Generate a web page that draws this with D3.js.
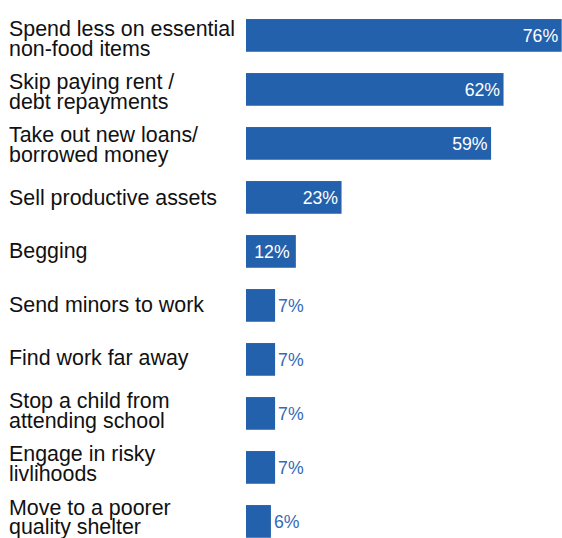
<!DOCTYPE html>
<html>
<head>
<meta charset="utf-8">
<script src="https://cdn.jsdelivr.net/npm/d3@7"></script>
<style>
  html, body { margin: 0; padding: 0; background: #fff; }
  svg { display: block; }
  text { font-family: "Liberation Sans", Arial, sans-serif; }
</style>
</head>
<body>
<svg id="chart" width="562" height="538"></svg>
<script>
// Coping strategies and the share of households using each (%)
const categories = [
  "Spend less on essential non-food items",
  "Skip paying rent / debt repayments",
  "Take out new loans/ borrowed money",
  "Sell productive assets",
  "Begging",
  "Send minors to work",
  "Find work far away",
  "Stop a child from attending school",
  "Engage in risky livlihoods",
  "Move to a poorer quality shelter"
];
// Line breaks used for the category labels
const labelLines = [
  ["Spend less on essential", "non-food items"],
  ["Skip paying rent /", "debt repayments"],
  ["Take out new loans/", "borrowed money"],
  ["Sell productive assets"],
  ["Begging"],
  ["Send minors to work"],
  ["Find work far away"],
  ["Stop a child from", "attending school"],
  ["Engage in risky", "livlihoods"],
  ["Move to a poorer", "quality shelter"]
];
const values = [76, 62, 59, 23, 12, 7, 7, 7, 7, 6];

const barColor = "#2461ad";
const outsideLabelColor = "#346ab8";

const svg = d3.select("#chart");

const x = d3.scaleLinear().domain([0, 76]).range([246, 561.7]);

const y = d3.scaleBand()
  .domain(categories)
  .range([8.4, 548.4])
  .paddingInner(0.394)
  .paddingOuter(0.197);

// category labels sit on their own slightly tighter grid
const yLabel = d3.scalePoint()
  .domain(categories)
  .range([38.7, 517]);

const rows = categories.map((c, i) => ({ c, v: values[i], lines: labelLines[i] }));

// bars
svg.append("g").selectAll("rect")
  .data(rows)
  .join("rect")
  .attr("x", x(0))
  .attr("y", d => y(d.c))
  .attr("width", d => x(d.v) - x(0))
  .attr("height", y.bandwidth())
  .attr("fill", barColor);

// category labels
const fontSize = 21.4;
const lineGap = 19.8;
const labels = svg.append("g")
  .attr("font-size", fontSize)
  .attr("fill", "#111");
rows.forEach(d => {
  const a = yLabel(d.c);
  const t = labels.append("text").attr("x", 9);
  if (d.lines.length === 1) {
    t.append("tspan").attr("x", 9).attr("y", a + 7.2).text(d.lines[0]);
  } else {
    t.append("tspan").attr("x", 9).attr("y", a - 2.5).text(d.lines[0]);
    t.append("tspan").attr("x", 9).attr("y", a - 2.5 + lineGap).text(d.lines[1]);
  }
});

// value labels
const valueLabels = svg.append("g").attr("font-size", 17.7);
rows.forEach(d => {
  const w = x(d.v) - x(0);
  const cy = y(d.c) + y.bandwidth() / 2 + 6.3;
  const t = valueLabels.append("text").attr("y", cy).text(d.v + "%");
  if (w < 40) {
    t.attr("x", x(d.v) + 3).attr("text-anchor", "start").attr("fill", outsideLabelColor);
  } else if (w < 60) {
    t.attr("x", (x(0) + x(d.v)) / 2 + 1).attr("text-anchor", "middle").attr("fill", "#fff");
  } else {
    t.attr("x", x(d.v) - 3.5).attr("text-anchor", "end").attr("fill", "#fff");
  }
});
</script>
</body>
</html>
